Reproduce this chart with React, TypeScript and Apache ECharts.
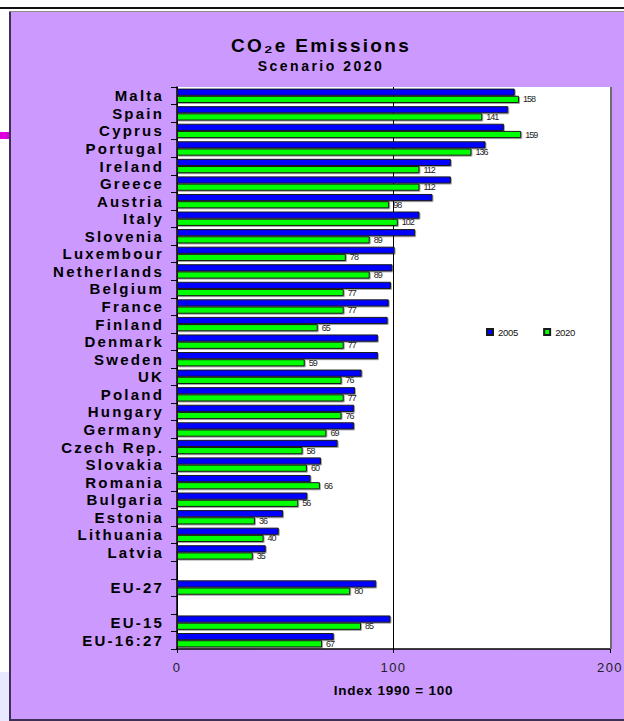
import React, { useEffect, useRef } from "react";
import * as echarts from "echarts";

const categories = [
  "Malta", "Spain", "Cyprus", "Portugal", "Ireland", "Greece", "Austria", "Italy",
  "Slovenia", "Luxembour", "Netherlands", "Belgium", "France", "Finland", "Denmark",
  "Sweden", "UK", "Poland", "Hungary", "Germany", "Czech Rep.", "Slovakia", "Romania",
  "Bulgaria", "Estonia", "Lithuania", "Latvia", "", "EU-27", "", "EU-15", "EU-16:27",
];

const values2005 = [
  156, 153, 151, 142.5, 126.5, 126.5, 118, 112, 110, 100.5, 99.5, 98.8, 97.8, 97.3, 92.8,
  92.8, 85.3, 82.2, 81.8, 81.8, 74.2, 66.5, 61.7, 60.2, 49, 47, 41, null, 92, null, 98.6, 72.4,
];

const values2020 = [
  158, 141, 159, 136, 112, 112, 98, 102, 89, 78, 89, 77, 77, 65, 77,
  59, 76, 77, 76, 69, 58, 60, 66, 56, 36, 40, 35, null, 80, null, 85, 67,
];

const seriesNames = ["2005", "2020"];
const xTicks = [0, 100, 200];
const titleText = "CO₂e Emissions";
const subtitleText = "Scenario 2020";
const axisNameText = "Index 1990 = 100";

const FONT = "'Liberation Sans', Arial, Helvetica, sans-serif";

const css = `
.co2 text[style*="15px"]{letter-spacing:2.2px}
.co2 text[style*="14px"]{letter-spacing:2.5px}
.co2 text[style*="13px"]{letter-spacing:1.5px}
.co2 text[style*="13.5px"]{letter-spacing:0.8px}
.co2 text[style*="9px"]{letter-spacing:-1px}
.co2 text[style*="9.5px"]{letter-spacing:-0.3px}
.co2 text[style*="19px"]{letter-spacing:2.3px}
`;

export default function App() {
  const ref = useRef<HTMLDivElement>(null);

  useEffect(() => {
    if (!ref.current) return;
    const chart = echarts.init(ref.current, null, { renderer: "svg" });
    const barBorder = "#1a1a1a";
    chart.setOption({
      animation: false,
      backgroundColor: "#ffffff",
      textStyle: { fontFamily: FONT },
      graphic: [
        { type: "rect", z: -10, shape: { x: 0, y: 7, width: 624, height: 2 }, style: { fill: "#111111" } },
        { type: "rect", z: -10, shape: { x: 9, y: 11, width: 615, height: 1.5 }, style: { fill: "#8a8a8a" } },
        { type: "rect", z: -10, shape: { x: 9, y: 12, width: 615, height: 709 }, style: { fill: "#CC99FF" } },
        { type: "rect", z: -9, shape: { x: 9, y: 12, width: 2, height: 709 }, style: { fill: "#3d2f55" } },
        { type: "rect", z: -9, shape: { x: 9, y: 719, width: 615, height: 2 }, style: { fill: "#3d2f55" } },
        { type: "rect", z: -10, shape: { x: 0, y: 132, width: 9, height: 7 }, style: { fill: "#DD00DD" } },
        { type: "rect", z: -10, shape: { x: 0, y: 672, width: 9, height: 49 }, style: { fill: "#E8E8FF" } },
        { type: "rect", z: 10, shape: { x: 610, y: 87, width: 2, height: 562 }, style: { fill: "#6e6e6e" } },
        {
          type: "text", z: 10, x: 321, y: 45,
          style: { text: titleText, fill: "#000", font: `bold 19px ${FONT}`, textAlign: "center", textVerticalAlign: "middle" },
        },
        {
          type: "text", z: 10, x: 321, y: 66,
          style: { text: subtitleText, fill: "#000", font: `bold 14px ${FONT}`, textAlign: "center", textVerticalAlign: "middle" },
        },
      ],
      legend: {
        data: seriesNames,
        left: 481,
        top: 322,
        orient: "horizontal",
        itemWidth: 6,
        itemHeight: 6,
        itemGap: 24,
        icon: "rect",
        textStyle: { fontSize: 9.5, color: "#111", fontFamily: FONT },
      },
      grid: {
        left: 177,
        right: 14,
        top: 87,
        bottom: 72,
        containLabel: false,
        show: true,
        backgroundColor: "#ffffff",
        borderWidth: 0,
      },
      xAxis: {
        type: "value",
        min: xTicks[0],
        max: xTicks[xTicks.length - 1],
        interval: xTicks[1] - xTicks[0],
        axisLine: { show: true, lineStyle: { color: "#000", width: 1.5 } },
        axisTick: { show: true, length: 4, lineStyle: { color: "#000" } },
        splitLine: { show: true, lineStyle: { color: "#000", width: 1 } },
        axisLabel: { fontSize: 13, color: "#222", margin: 12, fontFamily: FONT },
        name: axisNameText,
        nameLocation: "middle",
        nameGap: 34,
        nameTextStyle: { fontSize: 13.5, fontWeight: "bold", color: "#000", fontFamily: FONT },
      },
      yAxis: {
        type: "category",
        inverse: true,
        data: categories,
        axisLine: { show: true, lineStyle: { color: "#000", width: 1.5 } },
        axisTick: { show: true, length: 6, alignWithLabel: false, interval: 0, lineStyle: { color: "#000" } },
        axisLabel: { interval: 0, fontSize: 15, fontWeight: "bold", color: "#000", margin: 13, fontFamily: FONT },
        splitLine: { show: false },
      },
      series: [
        {
          name: seriesNames[0],
          type: "bar",
          data: values2005,
          barGap: "0%",
          barCategoryGap: "18%",
          itemStyle: {
            color: "#0000FF",
            borderColor: barBorder,
            borderWidth: 1,
            shadowColor: "rgba(0,0,0,0.35)",
            shadowOffsetX: 1,
            shadowOffsetY: 1,
          },
        },
        {
          name: seriesNames[1],
          type: "bar",
          data: values2020,
          barGap: "0%",
          barCategoryGap: "18%",
          itemStyle: {
            color: "#00FF00",
            borderColor: barBorder,
            borderWidth: 1,
            shadowColor: "rgba(0,0,0,0.35)",
            shadowOffsetX: 1,
            shadowOffsetY: 1,
          },
          label: {
            show: true,
            position: "right",
            distance: 4,
            fontSize: 9,
            color: "#222",
            fontFamily: FONT,
          },
        },
      ],
    });
    return () => chart.dispose();
  }, []);

  return (
    <>
      <style>{css}</style>
      <div
        ref={ref}
        className="co2"
        style={{ position: "fixed", left: 0, top: 0, width: 624, height: 721 }}
      />
    </>
  );
}
